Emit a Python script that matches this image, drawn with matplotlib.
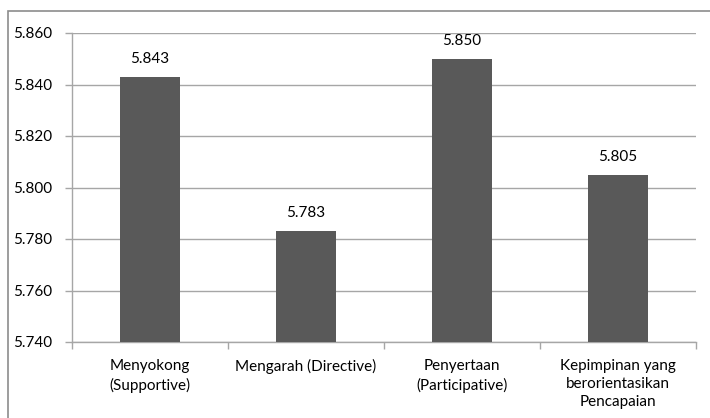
import matplotlib
matplotlib.use("Agg")
import matplotlib.pyplot as plt
from matplotlib.patches import Rectangle
import numpy as np

categories = ["Menyokong\n(Supportive)", "Mengarah (Directive)",
              "Penyertaan\n(Participative)", "Kepimpinan yang\nberorientasikan\nPencapaian"]
values = [5.843, 5.783, 5.850, 5.805]
value_labels = ["5.843", "5.783", "5.850", "5.805"]
yticks = [5.740, 5.760, 5.780, 5.800, 5.820, 5.840, 5.860]

plt.rcParams['font.family'] = ['Lato', 'DejaVu Sans']
W, H = 710, 418
fig = plt.figure(figsize=(W / 100, H / 100), dpi=100)
fig.patch.set_facecolor("white")
# outer frame (extends past right/bottom)
fig.add_artist(Rectangle((8 / W, -0.1), 1.2, 1 - 11 / H + 0.1, transform=fig.transFigure,
                         fill=False, edgecolor="#8c8c8c", lw=1.2))

ax = fig.add_axes([72 / W, 1 - 342 / H, (696 - 72) / W, (342 - 33) / H])
x = np.arange(len(categories))
ax.bar(x, values, width=0.39, color="#595959", zorder=3)
ax.set_xlim(-0.5, len(categories) - 0.5)
ax.set_ylim(5.740, 5.860)
ax.set_yticks(yticks)
ax.set_yticklabels([f"{v:.3f}" for v in yticks], fontsize=11)
ax.yaxis.grid(True, color="#a6a6a6", lw=1, zorder=0)
ax.tick_params(axis="y", length=5, width=1, color="#a6a6a6", pad=9)
ax.set_xticks(x)
ax.set_xticklabels(categories, fontsize=11, linespacing=1.4)
ax.tick_params(axis="x", which="major", length=0, pad=12)
ax.set_xticks(np.arange(-0.5, len(categories)), minor=True)
ax.tick_params(axis="x", which="minor", length=5, width=1, color="#a6a6a6")
for s in ["top", "right"]:
    ax.spines[s].set_visible(False)
for s in ["left", "bottom"]:
    ax.spines[s].set_color("#a6a6a6")
    ax.spines[s].set_linewidth(1)
for xi, v, lab in zip(x, values, value_labels):
    ax.annotate(lab, (xi, v), xytext=(0, 8), textcoords="offset points",
                ha="center", va="bottom", fontsize=11)
fig.savefig("out.png", dpi=100)
